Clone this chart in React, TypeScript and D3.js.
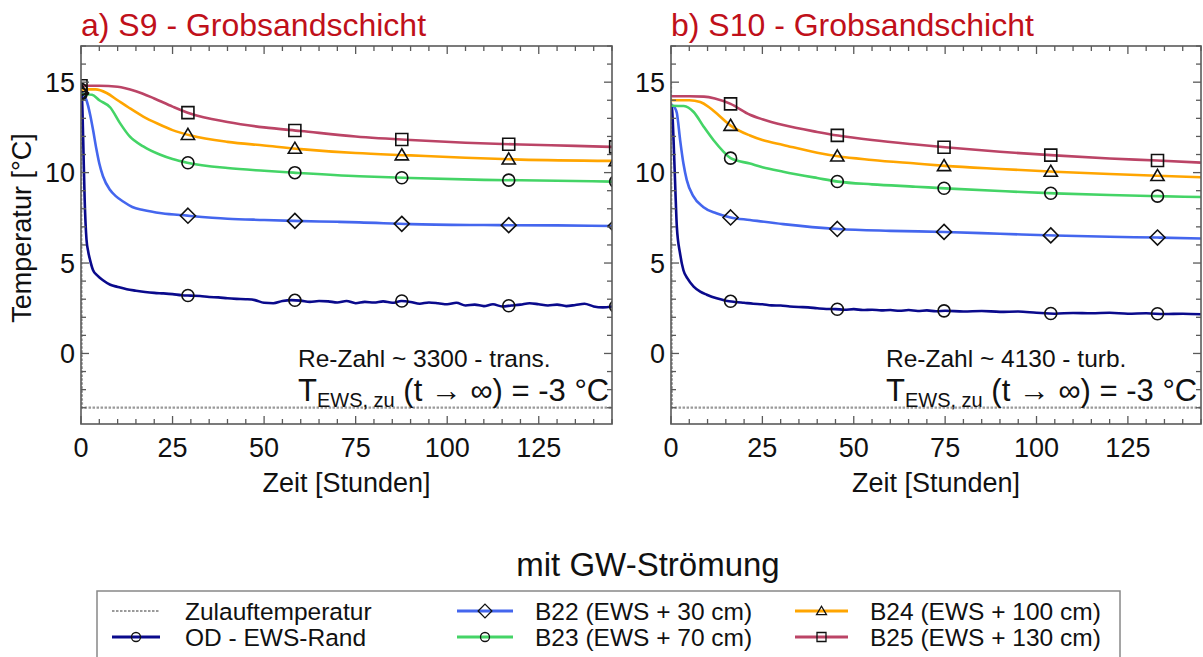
import React from "react";
import * as d3 from "d3";

type P = [number, number];

// ---------- DATA ----------
const xDomain: [number, number] = [0, 145];
const yDomain: [number, number] = [-3.9, 17];
const xMajorTicks = [0, 25, 50, 75, 100, 125];
const yMajorTicks = [0, 5, 10, 15];

const titles = ["a) S9 - Grobsandschicht", "b) S10 - Grobsandschicht"];
const reTexts = ["Re-Zahl ~ 3300 - trans.", "Re-Zahl ~ 4130 - turb."];

const seriesNames = [
  "Zulauftemperatur",
  "OD - EWS-Rand",
  "B22 (EWS + 30 cm)",
  "B23 (EWS + 70 cm)",
  "B24 (EWS + 100 cm)",
  "B25 (EWS + 130 cm)",
];

const s9MarkerTimes = [0, 29.2, 58.4, 87.6, 116.8, 146];
const s10MarkerTimes = [16.3, 45.5, 74.7, 103.9, 133.1];

const s9Zulauf: P[] = [[0, 15], [0.3, -3.0], [145, -3.0]];
const s9OD: P[] = [
  [0, 14.6], [0.3, 14.0], [0.6, 11.8], [1.0, 8.5], [1.5, 6.3], [2.0, 5.6], [2.5, 5.15], [3.3, 4.6],
  [4.5, 4.3], [6, 4.05], [8, 3.8], [10, 3.68], [12.5, 3.55], [15, 3.47], [17.5, 3.4], [20, 3.35],
  [22.5, 3.32], [25, 3.28], [27.5, 3.22], [30, 3.2], [32.5, 3.18], [35, 3.12], [37.5, 3.1], [40, 3.05],
  [42.5, 3.02], [45, 3.0], [47.5, 2.95], [50, 2.8], [52.5, 2.78], [55, 2.9], [57.5, 2.95], [60, 2.92],
  [62.5, 2.85], [65, 2.9], [67.5, 2.88], [70, 2.82], [72.5, 2.9], [75, 2.78], [77.5, 2.85], [80, 2.82],
  [82.5, 2.88], [85, 2.8], [87.5, 2.9], [90, 2.85], [92.5, 2.75], [95, 2.82], [97.5, 2.78], [100, 2.72],
  [102.5, 2.8], [105, 2.65], [107.5, 2.7], [110, 2.62], [112.5, 2.72], [115, 2.6], [117.5, 2.65],
  [120, 2.7], [122.5, 2.78], [125, 2.72], [127.5, 2.65], [130, 2.7], [132.5, 2.62], [135, 2.68],
  [137.5, 2.75], [140, 2.6], [142.5, 2.55], [145, 2.6],
];
const s9B22: P[] = [
  [0.3, 14.4], [1.5, 14.0], [2.5, 13.2], [3.3, 12.35], [4.2, 11.3], [5, 10.5], [6, 9.8], [7.9, 9.05],
  [9.5, 8.7], [11.5, 8.4], [14, 8.1], [17, 7.93], [22, 7.75], [29, 7.62], [40, 7.45], [50, 7.38],
  [58, 7.33], [70, 7.28], [76, 7.25], [90, 7.15], [110, 7.1], [130, 7.08], [145, 7.05],
];
const s9B23: P[] = [
  [0, 14.35], [3, 14.3], [5, 14.0], [8, 13.6], [10.6, 12.75], [13.3, 12.0], [17, 11.45], [21.5, 11.0],
  [25, 10.75], [29, 10.55], [40, 10.25], [50, 10.1], [58, 10.0], [76, 9.8], [90, 9.7], [110, 9.6],
  [130, 9.55], [145, 9.5],
];
const s9B24: P[] = [
  [0, 14.6], [4, 14.6], [7, 14.4], [10, 14.0], [13, 13.6], [17, 13.1], [21, 12.7], [25, 12.35],
  [30, 12.05], [40, 11.7], [50, 11.5], [60, 11.3], [75, 11.08], [90, 10.95], [105, 10.82], [120, 10.72],
  [145, 10.65],
];
const s9B25: P[] = [
  [0, 14.8], [5, 14.8], [10, 14.75], [15, 14.5], [20, 14.1], [25, 13.65], [30, 13.25], [40, 12.8],
  [50, 12.5], [60, 12.3], [75, 12.0], [90, 11.8], [105, 11.65], [120, 11.55], [135, 11.48], [145, 11.42],
];

const s10Zulauf: P[] = [[0, 15], [0.3, -3.0], [145, -3.0]];
const s10OD: P[] = [
  [0, 13.8], [0.3, 13.5], [0.7, 11.8], [1.2, 9.0], [1.6, 7.0], [2.5, 5.5], [3.4, 4.6], [4.5, 4.15],
  [6.2, 3.7], [8, 3.42], [9.8, 3.25], [12.5, 3.05], [15, 2.92], [17.5, 2.85], [20, 2.8], [22.5, 2.75],
  [25, 2.72], [27.5, 2.66], [30, 2.65], [32.5, 2.6], [35, 2.57], [37.5, 2.55], [40, 2.5], [42.5, 2.46],
  [45, 2.45], [47.5, 2.42], [50, 2.45], [52.5, 2.4], [55, 2.42], [57.5, 2.38], [60, 2.4], [62.5, 2.36],
  [65, 2.4], [67.5, 2.35], [70, 2.38], [72.5, 2.33], [75, 2.36], [80, 2.32], [85, 2.35], [90, 2.3],
  [95, 2.32], [100, 2.25], [105, 2.2], [110, 2.24], [115, 2.22], [120, 2.25], [125, 2.2], [130, 2.22],
  [135, 2.18], [140, 2.2], [145, 2.17],
];
const s10B22: P[] = [
  [0.3, 13.72], [1, 13.6], [1.6, 13.3], [2.5, 11.8], [3.4, 10.5], [4.3, 9.6], [6.1, 8.7], [8.8, 8.1],
  [12.4, 7.75], [16.3, 7.52], [21.6, 7.38], [30.7, 7.15], [45.7, 6.88], [60, 6.78], [75, 6.72],
  [90, 6.62], [105, 6.52], [120, 6.45], [133, 6.41], [145, 6.36],
];
const s10B23: P[] = [
  [0, 13.7], [3.5, 13.68], [6.2, 13.35], [8.9, 12.55], [11.6, 11.8], [14.4, 11.15], [16.3, 10.8],
  [21.6, 10.5], [25, 10.3], [30.7, 10.05], [40, 9.7], [45.7, 9.5], [55, 9.35], [67, 9.22], [75, 9.13],
  [90, 8.98], [105, 8.85], [120, 8.76], [133, 8.7], [145, 8.65],
];
const s10B24: P[] = [
  [0, 14.0], [5, 14.0], [8, 13.9], [10.5, 13.6], [12.6, 13.25], [16.3, 12.6], [21.6, 12.05], [25, 11.8],
  [30.7, 11.53], [40, 11.1], [45.7, 10.9], [55, 10.7], [67, 10.5], [75, 10.37], [90, 10.2], [105, 10.05],
  [120, 9.92], [133, 9.83], [145, 9.74],
];
const s10B25: P[] = [
  [0, 14.22], [5, 14.22], [9, 14.2], [12, 14.1], [16.3, 13.8], [21.6, 13.2], [25, 12.95], [30.7, 12.63],
  [40, 12.25], [45.7, 12.05], [55, 11.8], [67, 11.55], [75, 11.4], [90, 11.15], [105, 10.95],
  [120, 10.78], [133, 10.67], [145, 10.55],
];

// ---------- STYLE ----------
const colors = ["#9a9a9a", "#0a0a8c", "#4466ee", "#44d466", "#ffa500", "#bb4466"];
const markers = ["none", "circle", "diamond", "circle", "triangle", "square"];
const FONT = "'Liberation Sans', Arial, Helvetica, sans-serif";

const panelData = [
  { x0: 81, x1: 612, annX: 298, markerTimes: s9MarkerTimes, series: [s9Zulauf, s9OD, s9B22, s9B23, s9B24, s9B25] },
  { x0: 671, x1: 1201, annX: 886, markerTimes: s10MarkerTimes, series: [s10Zulauf, s10OD, s10B22, s10B23, s10B24, s10B25] },
];
const Y0 = 46, Y1 = 424;

function interp(data: P[], t: number): number {
  if (t <= data[0][0]) return data[0][1];
  if (t >= data[data.length - 1][0]) return data[data.length - 1][1];
  const i = d3.bisector((d: P) => d[0]).right(data, t);
  const a = data[i - 1], b = data[i];
  const f = (t - a[0]) / (b[0] - a[0]);
  return a[1] + f * (b[1] - a[1]);
}

function markerPath(type: string, s: number): string {
  const h = s / 2;
  switch (type) {
    case "square":
      return `M${-h},${-h}H${h}V${h}H${-h}Z`;
    case "diamond":
      return `M0,${-h * 1.25}L${h * 1.25},0L0,${h * 1.25}L${-h * 1.25},0Z`;
    case "triangle":
      return `M0,${-h * 1.05}L${h * 1.1},${h * 0.8}L${-h * 1.1},${h * 0.8}Z`;
    case "circle":
      return `M${h},0A${h},${h} 0 1,1 ${-h},0A${h},${h} 0 1,1 ${h},0Z`;
    default:
      return "";
  }
}

function Panel({ idx }: { idx: number }) {
  const p = panelData[idx];
  const x = d3.scaleLinear().domain(xDomain).range([p.x0, p.x1]);
  const y = d3.scaleLinear().domain(yDomain).range([Y1, Y0]);
  const line = d3
    .line<P>()
    .x((d) => x(d[0]))
    .y((d) => y(d[1]))
    .curve(d3.curveMonotoneX);
  const xMinor = d3.range(0, 146, 5);
  const yMinor = d3.range(-3, 18, 1);
  const clipId = `clip${idx}`;
  const axisColor = "#5a5a5a";
  const cx = (p.x0 + p.x1) / 2;
  return (
    <g>
      <defs>
        <clipPath id={clipId}>
          <rect x={p.x0} y={Y0} width={p.x1 - p.x0} height={Y1 - Y0} />
        </clipPath>
      </defs>
      <text x={p.x0} y={36} fontSize={32} fill="#c0101a" fontFamily={FONT}>
        {titles[idx]}
      </text>
      {/* series */}
      <g clipPath={`url(#${clipId})`}>
        {p.series.map((s, i) => (
          <path
            key={i}
            d={line(s) || ""}
            fill="none"
            stroke={colors[i]}
            strokeWidth={i === 0 ? 2.2 : 2.6}
            strokeDasharray={i === 0 ? "2.5,1.5" : undefined}
          />
        ))}
        {p.series.map((s, i) =>
          markers[i] === "none"
            ? null
            : p.markerTimes.map((t, k) => (
                <path
                  key={`${i}-${k}`}
                  d={markerPath(markers[i], 12)}
                  transform={`translate(${x(t)},${y(interp(s, t))})`}
                  fill="none"
                  stroke="#111"
                  strokeWidth={1.6}
                />
              ))
        )}
      </g>
      {/* frame */}
      <rect x={p.x0} y={Y0} width={p.x1 - p.x0} height={Y1 - Y0} fill="none" stroke={axisColor} strokeWidth={1.6} />
      {/* y ticks */}
      {yMinor.map((v) => {
        const major = yMajorTicks.includes(v);
        const len = major ? 8 : 5;
        return (
          <g key={`y${v}`} stroke={axisColor} strokeWidth={1.3}>
            <line x1={p.x0} x2={p.x0 + len} y1={y(v)} y2={y(v)} />
            <line x1={p.x1} x2={p.x1 - len} y1={y(v)} y2={y(v)} />
          </g>
        );
      })}
      {yMajorTicks.map((v) => (
        <text key={`yl${v}`} x={p.x0 - 6} y={y(v)} dy="0.36em" textAnchor="end" fontSize={27} fontFamily={FONT} fill="#111">
          {v}
        </text>
      ))}
      {/* x ticks */}
      {xMinor.map((v) => {
        const major = xMajorTicks.includes(v);
        const len = major ? 8 : 5;
        return (
          <g key={`x${v}`} stroke={axisColor} strokeWidth={1.3}>
            <line x1={x(v)} x2={x(v)} y1={Y1} y2={Y1 - len} />
            <line x1={x(v)} x2={x(v)} y1={Y0} y2={Y0 + len} />
          </g>
        );
      })}
      {xMajorTicks.map((v) => (
        <text key={`xl${v}`} x={x(v)} y={457} textAnchor="middle" fontSize={27} fontFamily={FONT} fill="#111">
          {v}
        </text>
      ))}
      <text x={cx} y={492} textAnchor="middle" fontSize={27} fontFamily={FONT} fill="#111">
        Zeit [Stunden]
      </text>
      {/* annotations */}
      <text x={p.annX} y={367} fontSize={24.5} fontFamily={FONT} fill="#111">
        {reTexts[idx]}
      </text>
      <text x={p.annX} y={401} fontSize={31} fontFamily={FONT} fill="#111">
        T
        <tspan fontSize={20} dy={6}>EWS, zu</tspan>
        <tspan dy={-6}>{" (t \u2192 \u221E) = -3 \u00B0C"}</tspan>
      </text>
    </g>
  );
}

function Legend() {
  const cols = [
    { lx0: 112, lx1: 160, tx: 185 },
    { lx0: 457, lx1: 513, tx: 535 },
    { lx0: 795, lx1: 848, tx: 870 },
  ];
  const rows = [611, 637];
  return (
    <g>
      <text x={648} y={576} textAnchor="middle" fontSize={33} fontFamily={FONT} fill="#111">
        mit GW-Strömung
      </text>
      <rect x={97} y={591} width={1023} height={80} fill="none" stroke="#888" strokeWidth={1.5} />
      {seriesNames.map((name, i) => {
        const c = cols[Math.floor(i / 2)];
        const ry = rows[i % 2];
        const mx = (c.lx0 + c.lx1) / 2;
        return (
          <g key={name}>
            <line
              x1={c.lx0}
              x2={c.lx1}
              y1={ry}
              y2={ry}
              stroke={colors[i]}
              strokeWidth={i === 0 ? 2.2 : 3}
              strokeDasharray={i === 0 ? "2.5,1.5" : undefined}
            />
            {markers[i] !== "none" && (
              <path
                d={markerPath(markers[i], markers[i] === "diamond" ? 11 : 9)}
                transform={`translate(${mx},${ry})`}
                fill="none"
                stroke="#111"
                strokeWidth={1.3}
              />
            )}
            <text x={c.tx} y={ry} dy="0.36em" fontSize={24.5} fontFamily={FONT} fill="#111">
              {name}
            </text>
          </g>
        );
      })}
    </g>
  );
}

export default function App() {
  return (
    <svg
      width={1203}
      height={657}
      viewBox="0 0 1203 657"
      style={{ position: "absolute", left: 0, top: 0, background: "#fff" }}
    >
      <rect width={1203} height={657} fill="#fff" />
      <Panel idx={0} />
      <Panel idx={1} />
      <text
        transform="translate(31,228) rotate(-90)"
        textAnchor="middle"
        fontSize={27}
        fontFamily={FONT}
        fill="#111"
      >
        Temperatur [°C]
      </text>
      <Legend />
    </svg>
  );
}
